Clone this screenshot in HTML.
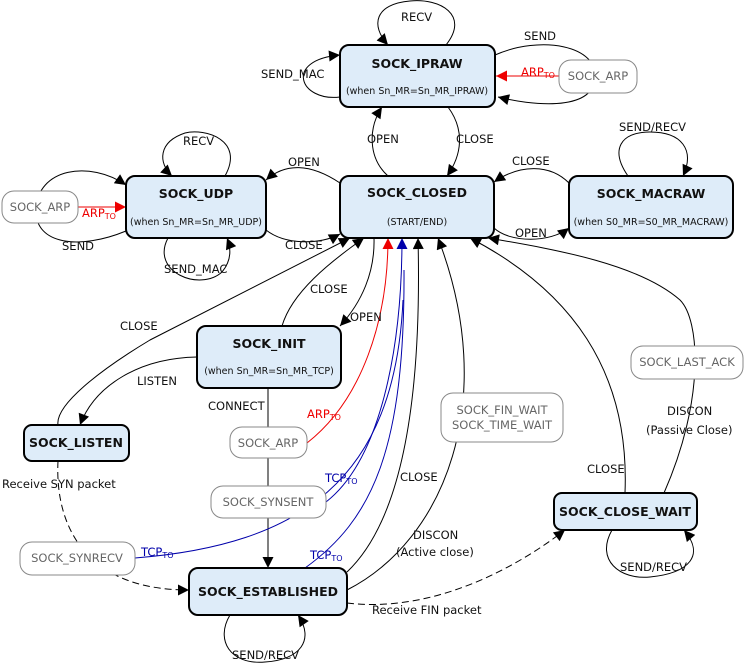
<!DOCTYPE html>
<html><head><meta charset="utf-8"><style>
html,body{margin:0;padding:0;background:#fff;}
svg{display:block;font-family:"DejaVu Sans","Liberation Sans",sans-serif;}
.n{fill:#deecf9;stroke:#000;stroke-width:2;}
.g{fill:#fff;stroke:#888;stroke-width:1;}
.t{font-size:12.5px;font-weight:bold;fill:#111;text-anchor:middle;}
.s{font-size:9.5px;fill:#111;text-anchor:middle;}
.gt{font-size:11.5px;fill:#666;text-anchor:middle;}
.l{font-size:11.5px;fill:#111;}
.e{fill:none;stroke:#000;stroke-width:1;}
.r{fill:none;stroke:#e00;stroke-width:1;}
.b{fill:none;stroke:#00a;stroke-width:1;}
.d{fill:none;stroke:#000;stroke-width:1;stroke-dasharray:7,4;}
</style></head><body>
<svg width="744" height="665" viewBox="0 0 744 665" xmlns="http://www.w3.org/2000/svg">
<defs>
<marker id="a" viewBox="0 0 10 10" refX="10" refY="5" markerWidth="13" markerHeight="11" markerUnits="userSpaceOnUse" orient="auto"><path d="M0,0L10,5L0,10z" fill="#000"/></marker>
<marker id="ar" viewBox="0 0 10 10" refX="10" refY="5" markerWidth="13" markerHeight="11" markerUnits="userSpaceOnUse" orient="auto"><path d="M0,0L10,5L0,10z" fill="#e00"/></marker>
<marker id="ab" viewBox="0 0 10 10" refX="10" refY="5" markerWidth="13" markerHeight="11" markerUnits="userSpaceOnUse" orient="auto"><path d="M0,0L10,5L0,10z" fill="#00a"/></marker>
</defs>

<path class="e" d="M446 45 C470 15 440 -2 410 1 C375 4 370 25 388 45" marker-end="url(#a)"/>
<path class="e" d="M340 97 C300 102 283 60 340 55" marker-end="url(#a)"/>
<path class="e" d="M495 55 C540 35 600 45 595 80 C590 112 530 105 498 97" marker-end="url(#a)"/>
<path class="r" d="M559 76 L496 76" marker-end="url(#ar)"/>
<path class="e" d="M388 176 C368 158 368 128 382 107" marker-end="url(#a)"/>
<path class="e" d="M448 107 C465 130 462 155 447 176" marker-end="url(#a)"/>
<path class="e" d="M340 183 C310 163 285 163 266 180" marker-end="url(#a)"/>
<path class="e" d="M266 230 C285 245 320 245 340 234" marker-end="url(#a)"/>
<path class="e" d="M225 176 C245 140 205 128 185 133 C158 142 158 163 172 176" marker-end="url(#a)"/>
<path class="e" d="M168 238 C150 272 200 292 222 272 C232 260 231 248 227 238" marker-end="url(#a)"/>
<path class="e" d="M126 231 C80 250 35 245 36 210 C37 168 90 160 126 185" marker-end="url(#a)"/>
<path class="r" d="M78 207 L126 207" marker-end="url(#ar)"/>
<path class="e" d="M494 228 C510 243 550 243 569 228" marker-end="url(#a)"/>
<path class="e" d="M569 183 C550 164 520 164 494 182" marker-end="url(#a)"/>
<path class="e" d="M628 176 C610 150 620 132 650 132 C682 132 695 150 683 176" marker-end="url(#a)"/>
<path class="e" d="M58 425 C55 405 100 370 150 340 L350 238" marker-end="url(#a)"/>
<path class="e" d="M282 326 C292 292 330 262 364 238" marker-end="url(#a)"/>
<path class="e" d="M374 238 C375 272 362 302 340 326" marker-end="url(#a)"/>
<path class="e" d="M197 357 C140 358 95 385 80 425" marker-end="url(#a)"/>
<path class="e" d="M268 388 L268 568" marker-end="url(#a)"/>
<path class="r" d="M307 443 C362 400 388 320 388 238" marker-end="url(#ar)"/>
<path class="b" d="M326 502 C380 460 402 350 402 238" marker-end="url(#ab)"/>
<path class="b" d="M135 558 C300 545 395 480 403 300"/>
<path class="b" d="M305 568 C372 520 405 450 404 270"/>
<path class="e" d="M347 572 C402 520 422 400 418 238" marker-end="url(#a)"/>
<path class="e" d="M347 590 C445 540 500 400 438 238" marker-end="url(#a)"/>
<path class="e" d="M625 493 C630 370 570 290 470 238" marker-end="url(#a)"/>
<path class="e" d="M664 493 C705 400 700 320 680 300 C640 265 560 250 488 238" marker-end="url(#a)"/>
<path class="d" d="M58 461 C55 520 80 590 189 590" marker-end="url(#a)"/>
<path class="d" d="M347 603 C420 612 500 580 565 530" marker-end="url(#a)"/>
<path class="e" d="M230 615 C215 640 230 665 265 662 C300 660 315 640 298 615" marker-end="url(#a)"/>
<path class="e" d="M612 530 C595 560 620 580 650 577 C690 573 705 555 684 530" marker-end="url(#a)"/>

<rect class="n" x="340" y="45" width="155" height="62" rx="9"/>
<text class="t" x="417" y="68">SOCK_IPRAW</text><text class="s" x="417" y="94">(when Sn_MR=Sn_MR_IPRAW)</text>
<rect class="n" x="126" y="176" width="140" height="62" rx="9"/>
<text class="t" x="196" y="198">SOCK_UDP</text><text class="s" x="196" y="225">(when Sn_MR=Sn_MR_UDP)</text>
<rect class="n" x="340" y="176" width="154" height="62" rx="9"/>
<text class="t" x="417" y="197">SOCK_CLOSED</text><text class="s" x="417" y="225">(START/END)</text>
<rect class="n" x="569" y="176" width="164" height="62" rx="9"/>
<text class="t" x="651" y="198">SOCK_MACRAW</text><text class="s" x="651" y="225">(when S0_MR=S0_MR_MACRAW)</text>
<rect class="n" x="197" y="326" width="144" height="62" rx="9"/>
<text class="t" x="269" y="348">SOCK_INIT</text><text class="s" x="269" y="374">(when Sn_MR=Sn_MR_TCP)</text>
<rect class="n" x="24" y="425" width="105" height="36" rx="8"/>
<text class="t" x="76" y="447">SOCK_LISTEN</text>
<rect class="n" x="189" y="568" width="158" height="47" rx="9"/>
<text class="t" x="268" y="596">SOCK_ESTABLISHED</text>
<rect class="n" x="554" y="493" width="143" height="37" rx="8"/>
<text class="t" x="625" y="516">SOCK_CLOSE_WAIT</text>

<rect class="g" x="2" y="191" width="76" height="32" rx="12"/><text class="gt" x="40" y="211">SOCK_ARP</text>
<rect class="g" x="559" y="60" width="78" height="33" rx="12"/><text class="gt" x="598" y="80">SOCK_ARP</text>
<rect class="g" x="230" y="427" width="77" height="31" rx="12"/><text class="gt" x="268" y="447">SOCK_ARP</text>
<rect class="g" x="211" y="486" width="115" height="32" rx="12"/><text class="gt" x="268" y="506">SOCK_SYNSENT</text>
<rect class="g" x="20" y="542" width="115" height="33" rx="12"/><text class="gt" x="77" y="562">SOCK_SYNRECV</text>
<rect class="g" x="441" y="393" width="122" height="49" rx="12"/><text class="gt" x="502" y="414">SOCK_FIN_WAIT</text><text class="gt" x="502" y="429">SOCK_TIME_WAIT</text>
<rect class="g" x="631" y="346" width="112" height="33" rx="12"/><text class="gt" x="687" y="366">SOCK_LAST_ACK</text>

<text class="l" x="401" y="21">RECV</text>
<text class="l" x="261" y="78">SEND_MAC</text>
<text class="l" x="524" y="40">SEND</text>
<text class="l" x="521" y="76" style="fill:#e00">ARP<tspan font-size="8" dy="2">TO</tspan></text>
<text class="l" x="367" y="143">OPEN</text>
<text class="l" x="456" y="143">CLOSE</text>
<text class="l" x="288" y="166">OPEN</text>
<text class="l" x="285" y="249">CLOSE</text>
<text class="l" x="183" y="145">RECV</text>
<text class="l" x="164" y="273">SEND_MAC</text>
<text class="l" x="62" y="250">SEND</text>
<text class="l" x="82" y="217" style="fill:#e00">ARP<tspan font-size="8" dy="2">TO</tspan></text>
<text class="l" x="512" y="165">CLOSE</text>
<text class="l" x="515" y="237">OPEN</text>
<text class="l" x="619" y="131">SEND/RECV</text>
<text class="l" x="120" y="330">CLOSE</text>
<text class="l" x="310" y="293">CLOSE</text>
<text class="l" x="350" y="321">OPEN</text>
<text class="l" x="137" y="385">LISTEN</text>
<text class="l" x="208" y="410">CONNECT</text>
<text class="l" x="307" y="418" style="fill:#e00">ARP<tspan font-size="8" dy="2">TO</tspan></text>
<text class="l" x="325" y="482" style="fill:#00a">TCP<tspan font-size="8" dy="2">TO</tspan></text>
<text class="l" x="141" y="556" style="fill:#00a">TCP<tspan font-size="8" dy="2">TO</tspan></text>
<text class="l" x="310" y="559" style="fill:#00a">TCP<tspan font-size="8" dy="2">TO</tspan></text>
<text class="l" x="400" y="481">CLOSE</text>
<text class="l" x="413" y="539">DISCON</text>
<text class="l" x="396" y="556">(Active close)</text>
<text class="l" x="587" y="473">CLOSE</text>
<text class="l" x="667" y="415">DISCON</text>
<text class="l" x="646" y="434">(Passive Close)</text>
<text class="l" x="2" y="488">Receive SYN packet</text>
<text class="l" x="372" y="614">Receive FIN packet</text>
<text class="l" x="232" y="659">SEND/RECV</text>
<text class="l" x="620" y="571">SEND/RECV</text>
</svg>
</body></html>
